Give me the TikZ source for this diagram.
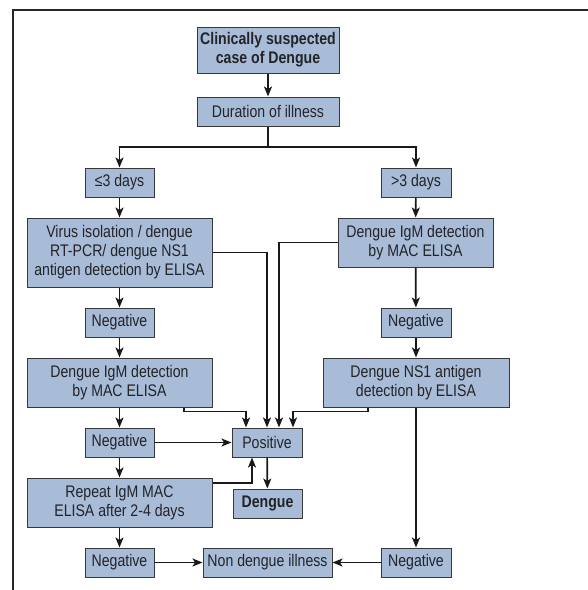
\documentclass[tikz,border=0pt]{standalone}
\usepackage{fontspec}
\setmainfont{Liberation Sans}[FakeStretch=0.84]
\usetikzlibrary{arrows.meta,calc}
\definecolor{boxfill}{RGB}{168,188,216}
\definecolor{boxline}{RGB}{55,55,60}
\definecolor{txt}{RGB}{35,35,40}
\begin{document}
\begin{tikzpicture}[x=1pt,y=-1pt,
  box/.style={draw=boxline,line width=1pt,fill=boxfill,text=txt,inner sep=0pt,align=center,
    font=\fontsize{16.8}{19}\selectfont},
  arr/.style={line width=1.7pt,draw=black!90,-{Stealth[length=10pt,width=8pt,inset=2.5pt]}},
  ln/.style={line width=1.7pt,draw=black!90}]
\useasboundingbox (0,0) rectangle (588,590);
\draw[line width=1.2pt,black!85] (13,590) -- (13,10) -- (588,10);
% nodes
\node[box,minimum width=142pt,minimum height=46pt,font=\fontsize{16.8}{19}\selectfont\bfseries] (clin) at (268,50) {Clinically suspected\\case of Dengue};
\node[box,minimum width=142pt,minimum height=29pt] (dur) at (268,111.5) {Duration of illness};
\node[box,minimum width=69pt,minimum height=29pt] (le3) at (119.5,182.5) {≤3 days};
\node[box,minimum width=70pt,minimum height=29pt] (gt3) at (416,182.5) {>3 days};
\node[box,minimum width=185pt,minimum height=69pt] (virus) at (119.5,252.5) {Virus isolation / dengue\\RT-PCR/ dengue NS1\\antigen detection by ELISA};
\node[box,minimum width=155pt,minimum height=49pt] (igmR) at (415.5,242.5) {Dengue IgM detection\\by MAC ELISA};
\node[box,minimum width=69pt,minimum height=29pt] (neg1L) at (119.5,322.5) {Negative};
\node[box,minimum width=70pt,minimum height=29pt] (neg1R) at (416,322.5) {Negative};
\node[box,minimum width=185pt,minimum height=49pt] (igmL) at (119.5,382.5) {Dengue IgM detection\\by MAC ELISA};
\node[box,minimum width=186pt,minimum height=49pt] (ns1R) at (416,382.5) {Dengue NS1 antigen\\detection by ELISA};
\node[box,minimum width=70pt,minimum height=29pt] (pos) at (267,442.5) {Positive};
\node[box,minimum width=69pt,minimum height=29pt] (neg2L) at (119.5,442.5) {Negative};
\node[box,minimum width=185pt,minimum height=49pt] (rep) at (119.5,502.5) {Repeat IgM MAC\\ELISA after 2-4 days};
\node[box,minimum width=69pt,minimum height=29pt,font=\fontsize{16.8}{19}\selectfont\bfseries] (dengue) at (267.5,503.5) {Dengue};
\node[box,minimum width=69pt,minimum height=29pt] (neg3L) at (119.5,562.5) {Negative};
\node[box,minimum width=129pt,minimum height=29pt] (nond) at (267.5,562.5) {Non dengue illness};
\node[box,minimum width=70pt,minimum height=29pt] (neg3R) at (416,562.5) {Negative};
% connectors
\coordinate (split) at (268,147);
\draw[arr] (clin) -- (dur);
\draw[ln] (dur.south) -- (split);
\draw[arr] (split) -| (le3.north);
\draw[arr] (split) -| (gt3.north);
\draw[arr] (le3) -- (virus);
\draw[arr] (gt3) -- (igmR);
\draw[arr] (virus) -- (neg1L);
\draw[arr] (neg1L) -- (igmL);
\draw[arr] (igmL) -- (neg2L);
\draw[arr] (neg2L) -- (rep);
\draw[arr] (rep) -- (neg3L);
\draw[arr] (neg3L) -- (nond);
\draw[arr] (neg3R) -- (nond);
\draw[arr] (igmR) -- (neg1R);
\draw[arr] (neg1R) -- (ns1R);
\draw[arr] (ns1R) -- (neg3R);
\draw[arr] (neg2L) -- (pos);
\draw[arr] (pos) -- (dengue);
\draw[arr] (virus.east) -| (pos.north);
\draw[arr] (igmR.west) -| ([xshift=12pt]pos.north);
\draw[arr] ([xshift=64.5pt]igmL.south) -- ++(0,4) -| ([xshift=-21pt]pos.north);
\draw[arr] ([xshift=-48pt]ns1R.south) -- ++(0,4) -| ([xshift=26pt]pos.north);
\draw[arr] ([yshift=19.5pt]rep.east) -| ([xshift=-15pt]pos.south);
\end{tikzpicture}
\end{document}
